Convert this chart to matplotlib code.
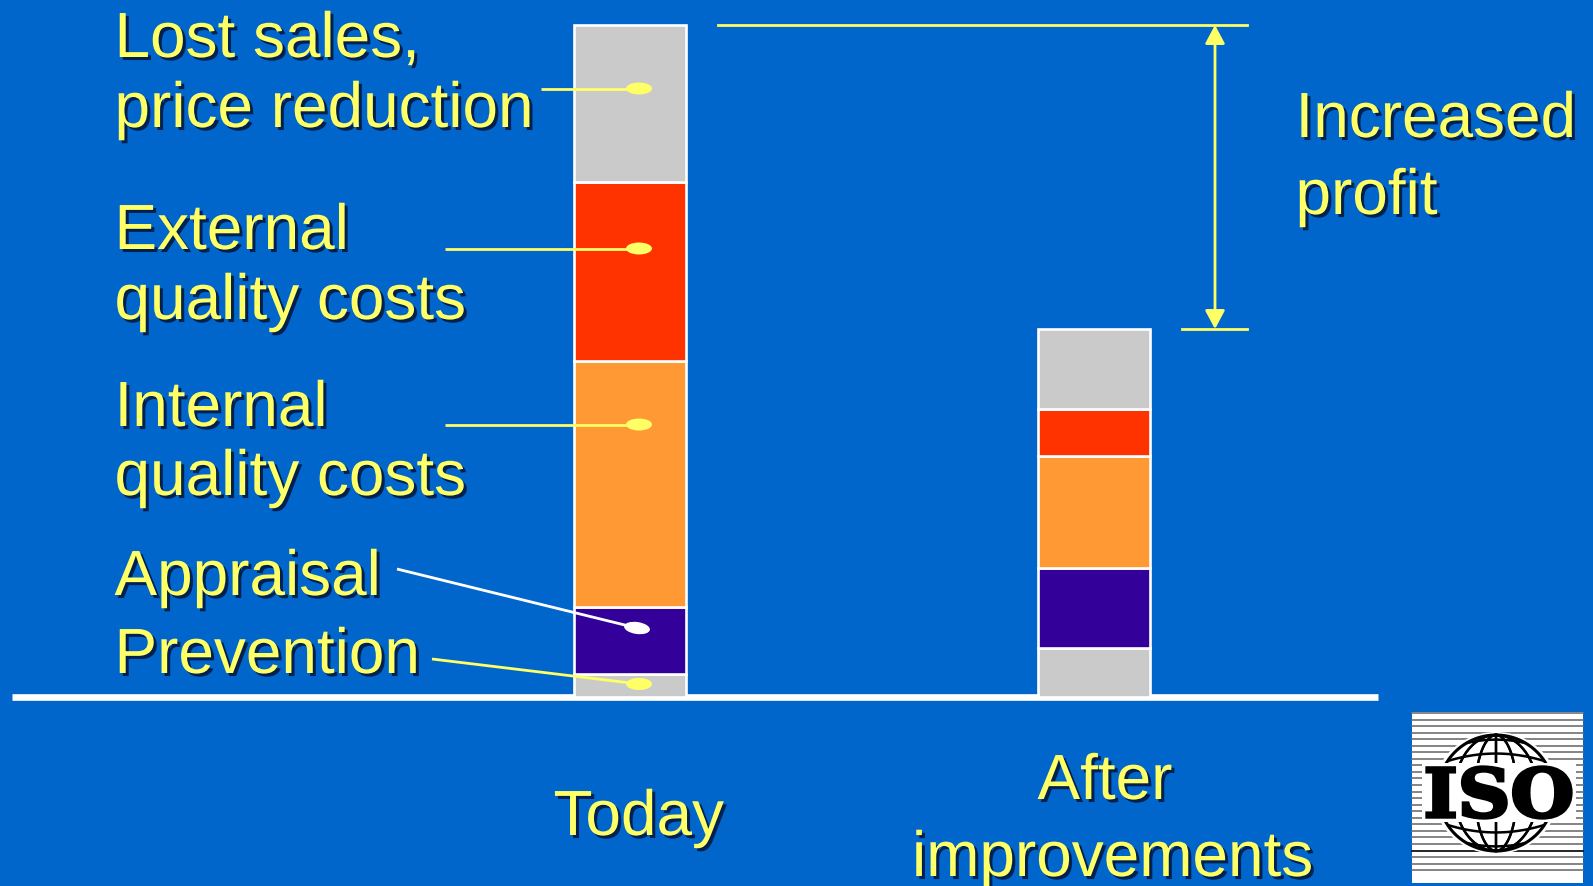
"""Stacked cost bars before and after quality improvements, slide style."""

import matplotlib
matplotlib.use("Agg")

import matplotlib.pyplot as plt
import matplotlib.patheffects as pe
import numpy as np
from matplotlib.font_manager import FontProperties
from matplotlib.patches import Ellipse, PathPatch, Rectangle
from matplotlib.textpath import TextPath
from matplotlib.transforms import Affine2D

WIDTH, HEIGHT = 1593, 887
BASELINE = 698  # pixels from the top edge down to the axis line

BLUE = "#0066CC"
YELLOW = "#FFFF66"
WHITE = "#FFFFFF"

# Stack order is bottom to top
segments = ["Prevention", "Appraisal", "Internal", "External", "Lost sales"]
colors = ["#CACACA", "#330099", "#FF9933", "#FF3300", "#CACACA"]
today = [23, 67, 246, 179, 157]
after = [49, 80, 112, 47.5, 79.5]
bar_centers = [630.4, 1094.4]
bar_width = 112


def Y(py):
    """Convert a distance from the top edge to height above the axis line."""
    return BASELINE - py


def label(ax, x, py, text, **kw):
    shadow = [
        pe.SimplePatchShadow(offset=(2.2, -2.2), shadow_rgbFace="#001030", alpha=0.8),
        pe.Normal(),
    ]
    ax.text(x, Y(py), text, color=YELLOW, fontsize=46, va="baseline",
            family="Liberation Sans", path_effects=shadow, zorder=8, **kw)


def leader(ax, x0, py0, x1, py1, color=YELLOW, angle=0):
    ax.plot([x0, x1], [Y(py0), Y(py1)], color=color, lw=2.0,
            solid_capstyle="butt", zorder=6)
    ax.add_patch(Ellipse((x1, Y(py1)), 26, 12, angle=angle, fc=color, ec="none", zorder=7))


def draw_stack(ax, x, values):
    bottom = 0
    for value, color in zip(values, colors):
        ax.bar(x, value, bar_width, bottom=bottom, color=color,
               edgecolor=WHITE, linewidth=1.9, zorder=3)
        bottom += value


def draw_iso_logo(ax):
    left, right, top, bottom = 1412, 1583, 713, 884
    cx, cy, r = 1496, 794, 58
    ax.add_patch(Rectangle((left, Y(bottom)), right - left, bottom - top,
                           fc=WHITE, ec="none", zorder=4))

    # Background rules
    rules = list(np.arange(714, 848, 6.55)) + [858, 864.5, 871]
    for py in rules:
        ax.plot([left, right], [Y(py), Y(py)], color="#707070", lw=1.2, zorder=4.1)
    ax.plot([left, right], [Y(852), Y(852)], color="black", lw=1.2, zorder=4.1)

    ax.add_patch(Ellipse((cx, Y(cy)), 2 * r + 10, 2 * r + 6, fc=WHITE, ec="none", zorder=4.2))

    # Globe: outline, meridians and curved parallels
    t = np.linspace(0, 2 * np.pi, 240)
    ax.plot(cx + r * np.cos(t), Y(cy) + r * np.sin(t), color="black", lw=2.2, zorder=4.3)
    for w in (-0.72, -0.36, 0, 0.36, 0.72):
        ax.plot(cx + w * r * np.sin(t), Y(cy) + r * np.cos(t), color="black", lw=1.7, zorder=4.3)
    for sign in (1, -1):
        for h, bulge in ((0.55, 0.13), (0.86, 0.06)):
            half = r * np.sqrt(1 - h ** 2)
            xs = np.linspace(-half, half, 60)
            ys = h * r + bulge * r * (1 - (xs / half) ** 2)
            keep = (xs ** 2 + ys ** 2) <= r ** 2
            ax.plot(cx + xs[keep], Y(cy) + sign * ys[keep], color="black", lw=1.8, zorder=4.3)

    # Lettering stretched to its box, with a clear band behind it
    x0, x1, py0, py1 = 1427, 1571, 768, 819
    ax.add_patch(Rectangle((x0 - 5, Y(py1 + 4)), x1 - x0 + 10, py1 - py0 + 8,
                           fc=WHITE, ec="none", zorder=4.4))
    glyphs = TextPath((0, 0), "ISO", size=100,
                      prop=FontProperties(family="DejaVu Serif", weight="bold"))
    box = glyphs.get_extents()
    fit = (Affine2D().translate(-box.x0, -box.y0)
           .scale((x1 - x0) / box.width, (py1 - py0) / box.height)
           .translate(x0, Y(py1)))
    ax.add_patch(PathPatch(glyphs.transformed(fit), fc="black", ec="black", lw=2.4, zorder=4.5))


def main():
    fig = plt.figure(figsize=(WIDTH / 100, HEIGHT / 100), dpi=100, facecolor=BLUE)
    ax = fig.add_axes([0, 0, 1, 1])
    ax.set_xlim(0, WIDTH)
    ax.set_ylim(BASELINE - HEIGHT, BASELINE)
    ax.axis("off")

    # Axis line sits behind the bars
    ax.plot([12, 1378], [0, 0], color=WHITE, lw=4.8, solid_capstyle="butt", zorder=2)

    draw_stack(ax, bar_centers[0], today)
    draw_stack(ax, bar_centers[1], after)

    # Bracket showing the gap between the two totals
    top_today, top_after = sum(today), sum(after)
    ax.plot([718, 1247], [top_today, top_today], color=YELLOW, lw=2.0, zorder=5)
    ax.plot([1182, 1247], [top_after, top_after], color=YELLOW, lw=2.0, zorder=5)
    ax.annotate("", xy=(1215, top_today), xytext=(1215, top_after),
                arrowprops=dict(arrowstyle="<|-|>,head_length=0.75,head_width=0.4",
                                color=YELLOW, lw=2.0, shrinkA=0, shrinkB=0,
                                mutation_scale=15),
                zorder=5)

    leader(ax, 541, 89.5, 639, 89.5)
    leader(ax, 445, 249.5, 639, 249.5)
    leader(ax, 445, 425.5, 639, 425.5)
    leader(ax, 397, 570, 637, 629, color=WHITE, angle=-8)
    leader(ax, 432, 660, 639, 685)

    label(ax, 114.5, 58, "Lost sales,")
    label(ax, 114.5, 128, "price reduction")
    label(ax, 114.5, 250, "External")
    label(ax, 114.5, 320, "quality costs")
    label(ax, 114.5, 427, "Internal")
    label(ax, 114.5, 496, "quality costs")
    label(ax, 114.5, 596, "Appraisal")
    label(ax, 114.5, 674, "Prevention")
    label(ax, 553.5, 836, "Today")
    label(ax, 1037.5, 800, "After")
    label(ax, 912, 877, "improvements")
    label(ax, 1295.5, 138, "Increased")
    label(ax, 1295.5, 215, "profit")

    draw_iso_logo(ax)

    fig.savefig("out.png", dpi=100, facecolor=BLUE)
    plt.close(fig)


if __name__ == "__main__":
    main()
